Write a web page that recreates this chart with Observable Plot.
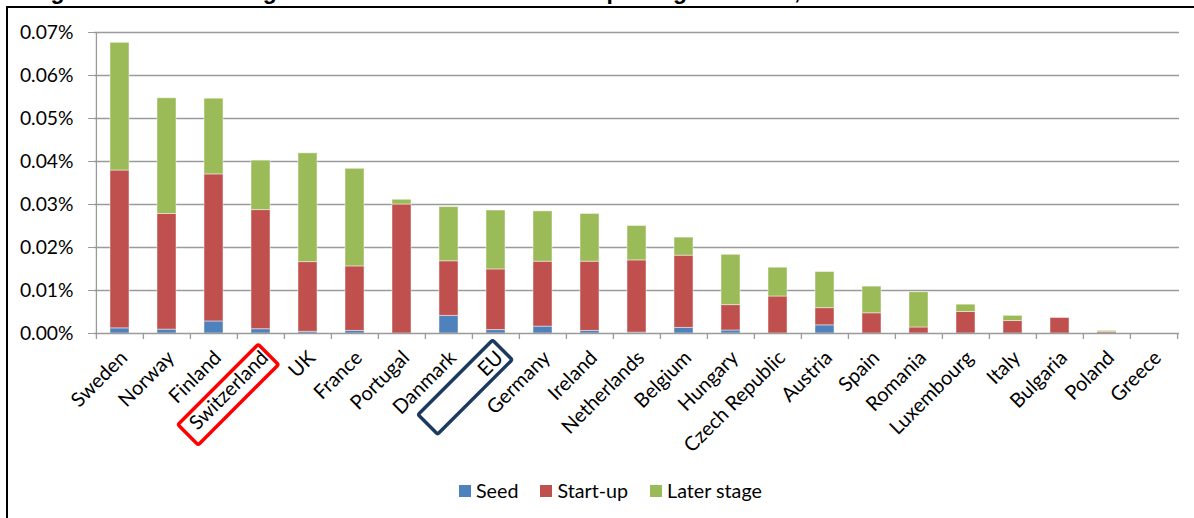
<!DOCTYPE html>
<html><head><meta charset="utf-8">
<script src="https://cdn.jsdelivr.net/npm/d3@7"></script>
<script src="https://cdn.jsdelivr.net/npm/@observablehq/plot@0.6"></script>
<style>
html,body{margin:0;padding:0;background:#fff;}
#wrap{position:relative;width:1194px;height:518px;overflow:hidden;font-family:Lato,sans-serif;}
#title{position:absolute;left:30px;top:-19px;font:bold 23px "Liberation Sans",Arial,sans-serif;line-height:20px;white-space:pre;color:#000}
.bl{position:absolute;background:#000}
#chart{position:absolute;left:0;top:0}
#legend{position:absolute;left:459px;top:478px;display:flex;align-items:center;font-size:19.7px;line-height:26px;color:#000;font-family:Lato,sans-serif}
.item{display:flex;align-items:center;margin-right:22px}
.sw{width:12px;height:12px;margin-right:5px}
</style></head><body>
<div id="wrap">
 <div id="title">Figure 6:      Percentage of investments in venture capital against GDP, 2010</div>
 <div class="bl" style="left:6px;top:6px;width:2px;height:600px"></div>
 <div class="bl" style="left:6px;top:6px;width:1300px;height:2px"></div>
 <div id="chart"></div>
 <div id="legend"></div>
</div>
<script>
// ---- data (values in % of GDP) ----
const countries = ["Sweden","Norway","Finland","Switzerland","UK","France","Portugal","Danmark","EU","Germany","Ireland","Netherlands","Belgium","Hungary","Czech Republic","Austria","Spain","Romania","Luxembourg","Italy","Bulgaria","Poland","Greece"];
const stages = ["Seed","Start-up","Later stage"];
const seed    = [0.0012,0.0009,0.0028,0.0010,0.0004,0.0006,0.0000,0.0041,0.0008,0.0016,0.0006,0.0002,0.0013,0.0007,0.0000,0.0019,0.0000,0.0000,0.0000,0.0000,0.0000,0.0000,0.0000];
const startup = [0.0367,0.0269,0.0342,0.0277,0.0162,0.0150,0.0300,0.0127,0.0141,0.0151,0.0161,0.0168,0.0168,0.0059,0.0086,0.0040,0.0047,0.0014,0.0050,0.0029,0.0036,0.0003,0.0000];
const later   = [0.0297,0.0269,0.0176,0.0115,0.0253,0.0227,0.0011,0.0126,0.0137,0.0117,0.0111,0.0080,0.0042,0.0117,0.0067,0.0084,0.0062,0.0082,0.0017,0.0012,0.0000,0.0003,0.0000];
const yTicks = [0,0.01,0.02,0.03,0.04,0.05,0.06,0.07];
const highlighted = ["Switzerland","EU"];

// ---- styles ----
const stageColors = ["#4F81BD","#C0504D","#9BBB59"];
const series = [seed, startup, later];
const table = countries.flatMap((c,i)=>stages.map((s,k)=>({country:c, stage:s, value:series[k][i]}))).filter(d=>d.value>0);

const W=1194,H=470,ML=94,MR=15,MT=32,MB=137;
const bw=(W-ML-MR)/countries.length;
const grid="#9a9a9a";

const plot = Plot.plot({
  width:W,height:H,marginLeft:ML,marginRight:MR,marginTop:MT,marginBottom:MB,
  style:{fontFamily:"Lato, sans-serif",fontSize:"19px",color:"#000",background:"transparent",overflow:"visible"},
  x:{type:"band",domain:countries,padding:0,axis:null},
  y:{domain:[0,0.07],axis:null},
  color:{domain:stages,range:stageColors},
  marks:[
    Plot.ruleY(yTicks.filter(d=>d>0),{stroke:grid,strokeWidth:1.3}),
    Plot.barY(table,{x:"country",y:"value",fill:"stage",insetLeft:14,insetRight:14,stroke:"#fff",strokeOpacity:0.45,strokeWidth:1}),
    Plot.ruleY([0],{stroke:grid,strokeWidth:1.3}),
    Plot.ruleX([countries[0]],{x:d=>d,dx:-bw/2,stroke:grid,strokeWidth:1.3}),
    Plot.ruleX(countries,{x:d=>d,y1:0,y2:0,insetBottom:-6,dx:-bw/2,stroke:grid,strokeWidth:1.3}),
    Plot.ruleX([countries[countries.length-1]],{x:d=>d,y1:0,y2:0,insetBottom:-6,dx:bw/2,stroke:grid,strokeWidth:1.3}),
    Plot.axisY(yTicks,{tickFormat:d=>d.toFixed(2)+"%",tickSize:6,tickPadding:15,stroke:grid,fill:"#000",fontSize:19.3,label:null}),
    Plot.text(countries,{x:d=>d,text:d=>d,frameAnchor:"bottom",rotate:-45,textAnchor:"end",lineAnchor:"middle",dx:4,dy:21,fontSize:20,fill:"#000"})
  ]
});
document.getElementById("chart").appendChild(plot);

// highlight boxes around two category labels, positioned from the x scale
const xs = plot.scale("x");
const y0 = H - MB;
const boxStyle = {
  "Switzerland":{ox:-32.3,oy:61.6,w:113.6,h:28.7,color:"#FF0000"},
  "EU":{ox:-30.4,oy:54.2,w:105.4,h:27.7,color:"#1B3A60"}
};
const svg = d3.select(plot);
highlighted.forEach(c=>{
  const b = boxStyle[c];
  const cx = xs.apply(c) + xs.bandwidth/2 + b.ox;
  svg.append("rect")
    .attr("x",-b.w/2).attr("y",-b.h/2).attr("width",b.w).attr("height",b.h)
    .attr("rx",2)
    .attr("fill","none").attr("stroke",b.color).attr("stroke-width",3.5)
    .attr("transform",`translate(${cx},${y0+b.oy}) rotate(-45)`);
});

// legend
const lg = document.getElementById("legend");
stages.forEach((s,i)=>{
  const it = document.createElement("div"); it.className="item";
  const sw = document.createElement("div"); sw.className="sw"; sw.style.background=stageColors[i];
  const tx = document.createElement("span"); tx.textContent=s;
  it.appendChild(sw); it.appendChild(tx); lg.appendChild(it);
});
</script>
</body></html>
